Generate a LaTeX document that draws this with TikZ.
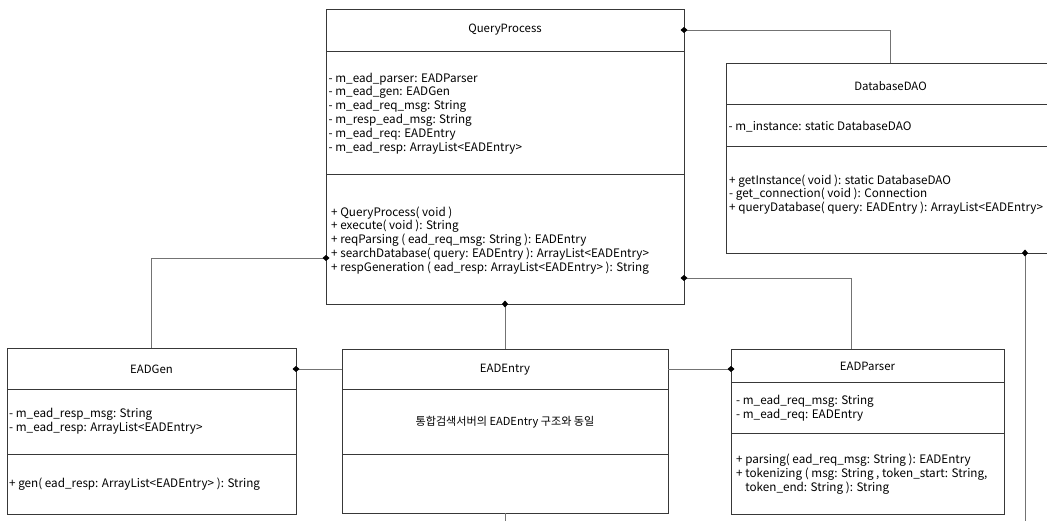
\documentclass[tikz,border=0pt]{standalone}
\usepackage{fontspec}
\setmainfont{Noto Sans CJK KR}
\usetikzlibrary{arrows.meta,calc}
\begin{document}
\begin{tikzpicture}[x=1pt,y=-1pt,
 box/.style={draw=black!78, line width=0.9pt, inner sep=0pt, outer sep=0pt, rectangle},
 divl/.style={draw=black!78, line width=0.9pt},
 conn/.style={draw=black!55, line width=0.9pt},
 comp/.style={conn, {Diamond[length=7pt,width=6pt,color=black,fill=black]}-, shorten <=-3.5pt},
 txt/.style={inner sep=0pt, align=left, anchor=west, text=black, font=\fontsize{11.7}{13.9}\selectfont},
 ttl/.style={inner sep=0pt, text=black, font=\fontsize{11.4}{13.9}\selectfont}
]
\clip (0,0) rectangle (1047,521);
\fill[white] (0,0) rectangle (1047,521);

% ---------- QueryProcess
\node[box, minimum width=358pt, minimum height=294.5pt] (qp) at (505,156.75) {};
\draw[divl] (qp.west |- 0,51) -- (qp.east |- 0,51);
\draw[divl] (qp.west |- 0,174) -- (qp.east |- 0,174);
\node[ttl] (qpT) at (505,30) {QueryProcess};
\node[txt] (qpA) at (328.5,113.5) {- m\_ead\_parser: EADParser\\
- m\_ead\_gen: EADGen\\
- m\_ead\_req\_msg: String\\
- m\_resp\_ead\_msg: String\\
- m\_ead\_req: EADEntry\\
- m\_ead\_resp: ArrayList<EADEntry>};
\node[txt] (qpM) at (331,240.5) {+ QueryProcess( void )\\
+ execute( void ): String\\
+ reqParsing ( ead\_req\_msg: String ): EADEntry\\
+ searchDatabase( query: EADEntry ): ArrayList<EADEntry>\\
+ respGeneration ( ead\_resp: ArrayList<EADEntry> ): String};

% ---------- DatabaseDAO
\node[box, minimum width=329pt, minimum height=190pt] (dao) at (890.5,158) {};
\draw[divl] (dao.west |- 0,104) -- (dao.east |- 0,104);
\draw[divl] (dao.west |- 0,146) -- (dao.east |- 0,146);
\node[ttl] (daoT) at (890.5,86) {DatabaseDAO};
\node[txt] (daoA) at (728.5,127) {- m\_instance: static DatabaseDAO};
\node[txt] (daoM) at (729,194.5) {+ getInstance( void ): static DatabaseDAO\\
- get\_connection( void ): Connection\\
+ queryDatabase( query: EADEntry ): ArrayList<EADEntry>};

% ---------- EADGen
\node[box, minimum width=289pt, minimum height=166pt] (gen) at (151.5,431) {};
\draw[divl] (gen.west |- 0,389) -- (gen.east |- 0,389);
\draw[divl] (gen.west |- 0,454) -- (gen.east |- 0,454);
\node[ttl] (genT) at (151.5,369) {EADGen};
\node[txt] (genA) at (9,421.5) {- m\_ead\_resp\_msg: String\\
- m\_ead\_resp: ArrayList<EADEntry>};
\node[txt] (genM) at (9,484) {+ gen( ead\_resp: ArrayList<EADEntry> ): String};

% ---------- EADEntry
\node[box, minimum width=326pt, minimum height=164pt] (ent) at (505,431) {};
\draw[divl] (ent.west |- 0,389) -- (ent.east |- 0,389);
\draw[divl] (ent.west |- 0,454) -- (ent.east |- 0,454);
\node[ttl] (entT) at (505,370) {EADEntry};
\node[ttl, font=\fontsize{11.1}{13.9}\selectfont] (entA) at (505,422) {통합검색서버의 EADEntry 구조와 동일};

% ---------- EADParser
\node[box, minimum width=273pt, minimum height=165pt] (par) at (867.5,431.5) {};
\draw[divl] (par.west |- 0,382) -- (par.east |- 0,382);
\draw[divl] (par.west |- 0,433) -- (par.east |- 0,433);
\node[ttl] (parT) at (867.5,366) {EADParser};
\node[txt] (parA) at (736,408) {- m\_ead\_req\_msg: String\\
- m\_ead\_req: EADEntry};
\node[txt] (parM) at (736,474.5) {+ parsing( ead\_req\_msg: String ): EADEntry\\
+ tokenizing ( msg: String , token\_start: String,\\
\hphantom{+ }token\_end: String ): String};

% ---------- connectors
\coordinate (qpR1) at (qp.east |- 0,30);
\coordinate (qpR2) at (qp.east |- 0,278);
\coordinate (qpL) at (qp.west |- 0,258);
\coordinate (daoTop) at (890,63);
\coordinate (parTop) at (851,349);
\coordinate (daoB) at (1025,253);
\coordinate (daoEnd) at (1025,530);
\coordinate (entEnd) at (ent.south |- 0,530);

\draw[comp] (qpR1) -| (daoTop);
\draw[comp] (qpL) -| (gen.north);
\draw[comp] (qp.south) -- (ent.north);
\draw[comp] (qpR2) -| (parTop);
\draw[comp] (gen.east |- 0,369) -- (ent.west |- 0,369);
\draw[comp] (par.west |- 0,369) -- (ent.east |- 0,369);
\draw[comp] (daoB) -- (daoEnd);
\draw[conn] (ent.south) -- (entEnd);
\end{tikzpicture}
\end{document}
